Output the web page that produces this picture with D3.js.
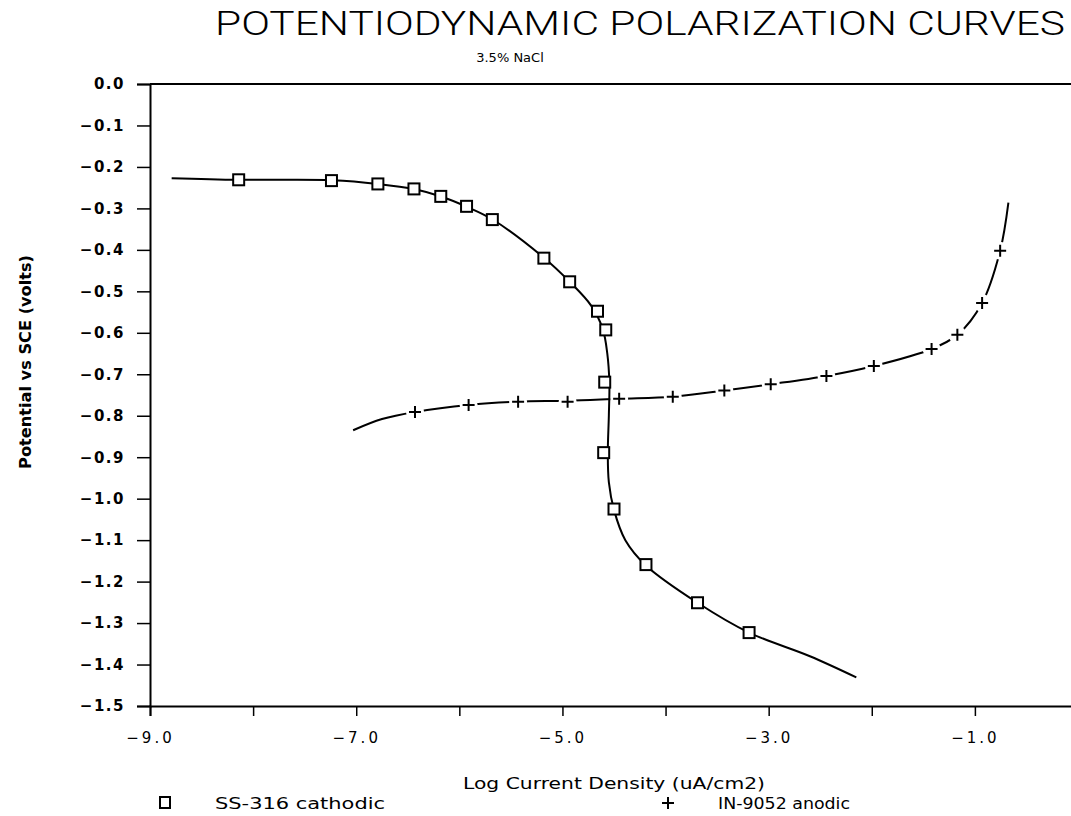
<!DOCTYPE html>
<html>
<head>
<meta charset="utf-8">
<script src="https://cdn.jsdelivr.net/npm/d3@7"></script>
<style>
  html, body { margin: 0; padding: 0; background: #fff; }
  svg { display: block; }
  text { fill: #000; }
</style>
</head>
<body>
<svg id="chart" width="1071" height="816"></svg>
<script>
// ---------- DATA ----------
const titleText = "POTENTIODYNAMIC POLARIZATION CURVES";
const subtitleText = "3.5% NaCl";
const xLabelText = "Log Current Density (uA/cm2)";
const yLabelText = "Potential vs SCE (volts)";
const legendLabels = ["SS-316 cathodic", "IN-9052 anodic"];

const xTickValues = [-9, -8, -7, -6, -5, -4, -3, -2, -1];
const xTickLabels = ["−9.0", "", "−7.0", "", "−5.0", "", "−3.0", "", "−1.0"];
const yTickValues = [0, -0.1, -0.2, -0.3, -0.4, -0.5, -0.6, -0.7, -0.8, -0.9, -1.0, -1.1, -1.2, -1.3, -1.4, -1.5];
const yTickLabels = ["0.0", "−0.1", "−0.2", "−0.3", "−0.4", "−0.5", "−0.6", "−0.7", "−0.8", "−0.9", "−1.0", "−1.1", "−1.2", "−1.3", "−1.4", "−1.5"];

// SS-316 cathodic: fitted curve and measured markers
const ssCurveX = [-8.79, -8.14, -7.23, -6.79, -6.43, -6.17, -5.93, -5.67, -5.18, -4.93, -4.72, -4.61, -4.565, -4.545, -4.55, -4.56, -4.55, -4.50, -4.39, -4.19, -3.69, -3.19, -2.60, -2.15];
const ssCurveY = [-0.227, -0.231, -0.232, -0.241, -0.254, -0.272, -0.296, -0.328, -0.419, -0.477, -0.535, -0.590, -0.65, -0.72, -0.80, -0.89, -0.96, -1.027, -1.10, -1.161, -1.251, -1.323, -1.38, -1.431];
const ssMarkX = [-8.14, -7.24, -6.79, -6.44, -6.18, -5.93, -5.68, -5.18, -4.93, -4.66, -4.58, -4.59, -4.60, -4.50, -4.19, -3.69, -3.19];
const ssMarkY = [-0.231, -0.233, -0.241, -0.253, -0.271, -0.295, -0.327, -0.420, -0.477, -0.548, -0.593, -0.719, -0.889, -1.025, -1.159, -1.251, -1.323];

// IN-9052 anodic: fitted curve and measured markers
const inCurveX = [-7.03, -6.75, -6.43, -5.91, -5.43, -4.95, -4.45, -3.93, -3.43, -2.98, -2.44, -1.98, -1.42, -1.17, -0.93, -0.755, -0.675];
const inCurveY = [-0.835, -0.808, -0.791, -0.774, -0.766, -0.764, -0.759, -0.754, -0.739, -0.724, -0.704, -0.680, -0.639, -0.605, -0.528, -0.402, -0.286];
const inMarkX = [-6.43, -5.91, -5.43, -4.95, -4.45, -3.93, -3.43, -2.98, -2.44, -1.98, -1.42, -1.17, -0.93, -0.755];
const inMarkY = [-0.791, -0.774, -0.766, -0.766, -0.759, -0.754, -0.739, -0.724, -0.704, -0.680, -0.639, -0.605, -0.528, -0.402];

// ---------- CHART ----------
const svg = d3.select("#chart");
const x = d3.scaleLinear().domain([-9, 0]).range([150, 1078]);
const y = d3.scaleLinear().domain([0, -1.5]).range([84, 706]);

const ink = "#000";
const font = "'DejaVu Sans', 'Liberation Sans', sans-serif";
const thinFont = "Roboto, 'Open Sans', 'DejaVu Sans', sans-serif";

// Title & subtitle
svg.append("text")
  .attr("x", 640).attr("y", 35)
  .attr("text-anchor", "middle")
  .attr("font-family", thinFont)
  .attr("font-weight", 300)
  .attr("font-size", 33)
  .attr("textLength", 850).attr("lengthAdjust", "spacingAndGlyphs")
  .text(titleText);

svg.append("text")
  .attr("x", 510).attr("y", 62)
  .attr("text-anchor", "middle")
  .attr("font-family", font)
  .attr("font-size", 13)
  .text(subtitleText);

// Frame lines (top, right)
svg.append("line")
  .attr("x1", x(-9)).attr("x2", x(0))
  .attr("y1", y(0)).attr("y2", y(0))
  .attr("stroke", ink).attr("stroke-width", 2);
svg.append("line")
  .attr("x1", x(0)).attr("x2", x(0))
  .attr("y1", y(0)).attr("y2", y(-1.5))
  .attr("stroke", ink).attr("stroke-width", 2);

// Y axis
const yAxis = d3.axisLeft(y)
  .tickValues(yTickValues)
  .tickSize(13).tickPadding(12)
  .tickFormat((d, i) => yTickLabels[i]);
const gy = svg.append("g").attr("transform", `translate(${x(-9)},0)`).call(yAxis);
gy.select(".domain").attr("stroke", ink).attr("stroke-width", 2);
gy.selectAll(".tick line").attr("stroke", ink).attr("stroke-width", 1.5);
gy.selectAll(".tick text")
  .attr("font-family", font).attr("font-weight", "bold")
  .attr("font-size", 15).attr("letter-spacing", 1.5);

// X axis
const xAxis = d3.axisBottom(x)
  .tickValues(xTickValues)
  .tickSize(10).tickPadding(16)
  .tickFormat((d, i) => xTickLabels[i]);
const gx = svg.append("g").attr("transform", `translate(0,${y(-1.5)})`).call(xAxis);
gx.select(".domain").attr("stroke", ink).attr("stroke-width", 2);
gx.selectAll(".tick line").attr("stroke", ink).attr("stroke-width", 1.5);
gx.selectAll(".tick text")
  .attr("font-family", font)
  .attr("font-size", 15).attr("letter-spacing", 3);

// Axis titles
svg.append("text")
  .attr("x", 614).attr("y", 789)
  .attr("text-anchor", "middle")
  .attr("font-family", font).attr("font-size", 15)
  .attr("textLength", 302).attr("lengthAdjust", "spacingAndGlyphs")
  .text(xLabelText);

svg.append("text")
  .attr("transform", `translate(31,362) rotate(-90)`)
  .attr("text-anchor", "middle")
  .attr("font-family", font).attr("font-weight", "bold").attr("font-size", 15)
  .attr("textLength", 214).attr("lengthAdjust", "spacingAndGlyphs")
  .text(yLabelText);

// Lines
const lineGen = d3.line()
  .x(d => x(d[0])).y(d => y(d[1]))
  .curve(d3.curveCatmullRom.alpha(0.5));

const inCurve = inCurveX.map((v, i) => [v, inCurveY[i]]);
const ssCurve = ssCurveX.map((v, i) => [v, ssCurveY[i]]);
const inMarks = inMarkX.map((v, i) => [v, inMarkY[i]]);
const ssMarks = ssMarkX.map((v, i) => [v, ssMarkY[i]]);

// anodic line (broken around markers)
svg.append("path").datum(inCurve)
  .attr("d", lineGen)
  .attr("fill", "none").attr("stroke", ink).attr("stroke-width", 2);
svg.append("g").selectAll("circle").data(inMarks).join("circle")
  .attr("cx", d => x(d[0])).attr("cy", d => y(d[1]))
  .attr("r", 9).attr("fill", "#fff");

// cathodic line
svg.append("path").datum(ssCurve)
  .attr("d", lineGen)
  .attr("fill", "none").attr("stroke", ink).attr("stroke-width", 2);

// plus markers
const plusSize = 6;
svg.append("g").selectAll("path").data(inMarks).join("path")
  .attr("d", d => {
    const cx = x(d[0]), cy = y(d[1]);
    return `M${cx - plusSize},${cy}H${cx + plusSize}M${cx},${cy - plusSize}V${cy + plusSize}`;
  })
  .attr("stroke", ink).attr("stroke-width", 2).attr("fill", "none");

// square markers
const sq = 11;
svg.append("g").selectAll("rect").data(ssMarks).join("rect")
  .attr("x", d => x(d[0]) - sq / 2).attr("y", d => y(d[1]) - sq / 2)
  .attr("width", sq).attr("height", sq)
  .attr("fill", "#fff").attr("stroke", ink).attr("stroke-width", 2);

// Legend
const lg = svg.append("g");
lg.append("rect").attr("x", 160).attr("y", 797).attr("width", 10).attr("height", 11)
  .attr("fill", "#fff").attr("stroke", ink).attr("stroke-width", 2);
lg.append("text").attr("x", 215).attr("y", 809)
  .attr("font-family", font).attr("font-size", 15)
  .attr("textLength", 170).attr("lengthAdjust", "spacingAndGlyphs")
  .text(legendLabels[0]);
lg.append("path")
  .attr("d", `M662,803H674M668,797V809`)
  .attr("stroke", ink).attr("stroke-width", 2);
lg.append("text").attr("x", 718).attr("y", 809)
  .attr("font-family", font).attr("font-size", 15)
  .attr("textLength", 132).attr("lengthAdjust", "spacingAndGlyphs")
  .text(legendLabels[1]);
</script>
</body>
</html>
